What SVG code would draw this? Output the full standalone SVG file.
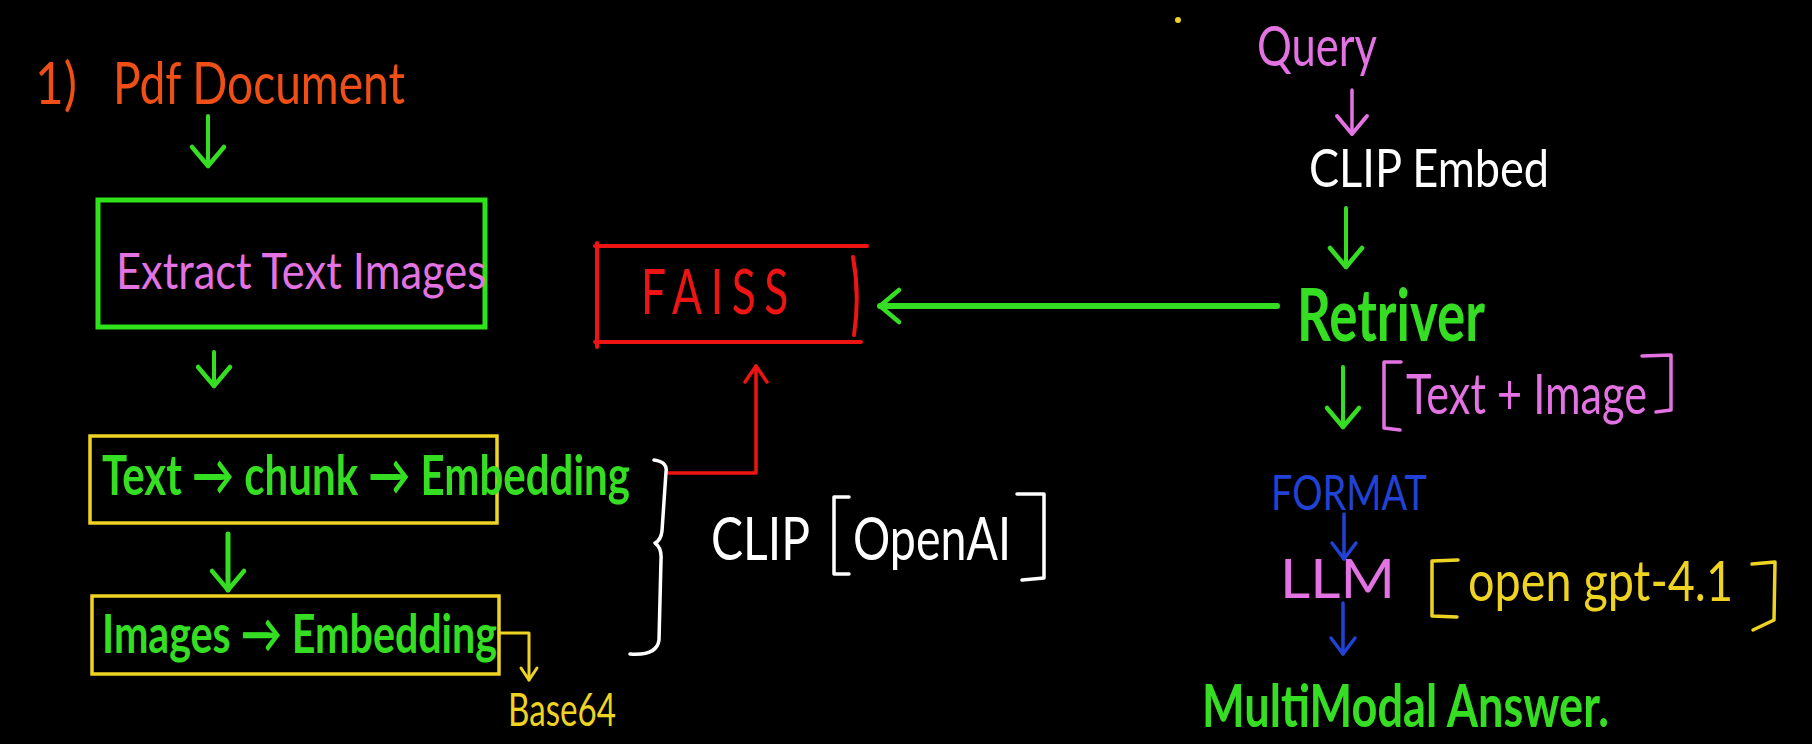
<svg xmlns="http://www.w3.org/2000/svg" width="1812" height="744" viewBox="0 0 1812 744">
<style>
text{font-family:Lato,"Liberation Sans",sans-serif;}
.org{fill:#ef4f17;}
.grn{fill:#35de22;}
.pnk{fill:#e372e3;}
.yel{fill:#eed323;}
.red{fill:#ee1414;}
.blu{fill:#2142d4;}
.wht{fill:#ffffff;}
.ln{fill:none;stroke-linecap:round;stroke-linejoin:round;}
</style>
<defs>
<marker id="hG" viewBox="-26 -26 52 52" markerWidth="52" markerHeight="52" markerUnits="userSpaceOnUse" orient="auto"><path d="M-19,-16 L0,0 L-19,16" fill="none" stroke="#35de22" stroke-width="4.5" stroke-linecap="round" stroke-linejoin="round"/></marker>
<marker id="hP" viewBox="-26 -26 52 52" markerWidth="52" markerHeight="52" markerUnits="userSpaceOnUse" orient="auto"><path d="M-18,-15 L0,0 L-18,15" fill="none" stroke="#e372e3" stroke-width="4" stroke-linecap="round" stroke-linejoin="round"/></marker>
<marker id="hB" viewBox="-26 -26 52 52" markerWidth="52" markerHeight="52" markerUnits="userSpaceOnUse" orient="auto"><path d="M-16,-12 L0,0 L-16,12" fill="none" stroke="#2142d4" stroke-width="3.5" stroke-linecap="round" stroke-linejoin="round"/></marker>
<marker id="hR" viewBox="-26 -26 52 52" markerWidth="52" markerHeight="52" markerUnits="userSpaceOnUse" orient="auto"><path d="M-16,-11 L0,0 L-16,11" fill="none" stroke="#ee1414" stroke-width="3.5" stroke-linecap="round" stroke-linejoin="round"/></marker>
<marker id="hY" viewBox="-26 -26 52 52" markerWidth="52" markerHeight="52" markerUnits="userSpaceOnUse" orient="auto"><path d="M-12,-8 L0,0 L-12,8" fill="none" stroke="#eed323" stroke-width="3" stroke-linecap="round" stroke-linejoin="round"/></marker>
</defs>
<rect x="0" y="0" width="1812" height="744" fill="#000000"/>

<g id="connectors" class="ln">
<path d="M208,116 L208,166" stroke="#35de22" stroke-width="4" marker-end="url(#hG)"/>
<path d="M214,352 L214,386" stroke="#35de22" stroke-width="4" marker-end="url(#hG)"/>
<path d="M228,534 L228,590" stroke="#35de22" stroke-width="5" marker-end="url(#hG)"/>
<path d="M499,633 L529,633 L529,680" stroke="#eed323" stroke-width="3" marker-end="url(#hY)"/>
<path d="M668,473 L756,473 L756,366" stroke="#ee1414" stroke-width="3.5" marker-end="url(#hR)"/>
<path d="M1277,306 L880,306" stroke="#35de22" stroke-width="6" marker-end="url(#hG)"/>
<path d="M1352,90 L1352,134" stroke="#e372e3" stroke-width="3.5" marker-end="url(#hP)"/>
<path d="M1346,208 L1346,267" stroke="#35de22" stroke-width="4" marker-end="url(#hG)"/>
<path d="M1343,367 L1343,427" stroke="#35de22" stroke-width="4" marker-end="url(#hG)"/>
<path d="M1344,514 L1344,559" stroke="#2142d4" stroke-width="3.5" marker-end="url(#hB)"/>
<path d="M1343,603 L1343,654" stroke="#2142d4" stroke-width="3.5" marker-end="url(#hB)"/>
</g>

<g id="title">
<text class="org" x="35" y="104" font-size="58" textLength="42" lengthAdjust="spacingAndGlyphs">1)</text>
<text class="org" x="113" y="104" font-size="58" textLength="292" lengthAdjust="spacingAndGlyphs">Pdf Document</text>
</g>

<g id="extract">
<rect x="98" y="200" width="387" height="127" fill="none" stroke="#2fe31a" stroke-width="5"/>
<text class="pnk" x="116" y="289" font-size="50" textLength="370" lengthAdjust="spacingAndGlyphs">Extract Text Images</text>
</g>

<g id="text-chunk">
<rect x="90" y="436" width="407" height="87" fill="none" stroke="#eed323" stroke-width="3.5"/>
<text class="grn" x="102" y="495" font-size="56" font-weight="bold" textLength="528" lengthAdjust="spacingAndGlyphs">Text → chunk → Embedding</text>
</g>

<g id="images-embed">
<rect x="92" y="596" width="407" height="78" fill="none" stroke="#eed323" stroke-width="3.5"/>
<text class="grn" x="102" y="653" font-size="54" font-weight="bold" textLength="395" lengthAdjust="spacingAndGlyphs">Images → Embedding</text>
</g>

<g id="base64">
<text class="yel" x="508" y="726" font-size="46" textLength="108" lengthAdjust="spacingAndGlyphs">Base64</text>
</g>

<g id="clip-openai">
<path class="ln" d="M654,460 Q668,462 666,472 L662,531 Q661,540 655,543 Q662,548 661,560 L659,640 Q657,656 630,654" stroke="#ffffff" stroke-width="3.5"/>
<text class="wht" x="711" y="560" font-size="60" textLength="99" lengthAdjust="spacingAndGlyphs">CLIP</text>
<path class="ln" d="M849,497 L834,497 L834,574 L849,574" stroke="#ffffff" stroke-width="3.5"/>
<text class="wht" x="853" y="560" font-size="60" textLength="158" lengthAdjust="spacingAndGlyphs">OpenAI</text>
<path class="ln" d="M1017,494 L1044,494 L1044,578 L1022,580" stroke="#ffffff" stroke-width="3.5"/>
</g>

<g id="faiss">
<path class="ln" d="M595,246 L867,246 M597,243 L597,347 M595,342 L861,342 M853,257 Q860,296 854,335" stroke="#ee1414" stroke-width="4"/>
<text class="red" x="641" y="314" font-size="62" letter-spacing="12" textLength="156" lengthAdjust="spacingAndGlyphs">FAISS</text>
</g>

<g id="query">
<circle cx="1178" cy="20" r="3" fill="#eed323"/>
<text class="pnk" x="1257" y="66" font-size="56" textLength="120" lengthAdjust="spacingAndGlyphs">Query</text>
</g>

<g id="clip-embed">
<text class="wht" x="1309" y="187" font-size="52" textLength="240" lengthAdjust="spacingAndGlyphs">CLIP Embed</text>
</g>

<g id="retriver">
<text class="grn" x="1297" y="341" font-size="72" font-weight="bold" textLength="188" lengthAdjust="spacingAndGlyphs">Retriver</text>
</g>

<g id="text-image">
<path class="ln" d="M1401,362 L1384,362 L1384,428 L1400,430" stroke="#e372e3" stroke-width="3.5"/>
<text class="pnk" x="1406" y="414" font-size="56" textLength="241" lengthAdjust="spacingAndGlyphs">Text + Image</text>
<path class="ln" d="M1642,356 L1671,355 L1671,410 L1656,412" stroke="#e372e3" stroke-width="3.5"/>
</g>

<g id="format">
<text class="blu" x="1271" y="510" font-size="48" textLength="156" lengthAdjust="spacingAndGlyphs">FORMAT</text>
</g>

<g id="llm">
<text class="pnk" x="1280" y="598" font-size="54" textLength="115" lengthAdjust="spacingAndGlyphs">LLM</text>
<path class="ln" d="M1458,560 L1432,561 L1432,616 L1457,617" stroke="#eed323" stroke-width="3.5"/>
<text class="yel" x="1468" y="601" font-size="56" textLength="265" lengthAdjust="spacingAndGlyphs">open gpt-4.1</text>
<path class="ln" d="M1752,564 L1775,562 L1774,620 L1753,630" stroke="#eed323" stroke-width="3.5"/>
</g>

<g id="answer">
<text class="grn" x="1202" y="727" font-size="60" font-weight="bold" textLength="407" lengthAdjust="spacingAndGlyphs">MultiModal Answer.</text>
</g>
</svg>
